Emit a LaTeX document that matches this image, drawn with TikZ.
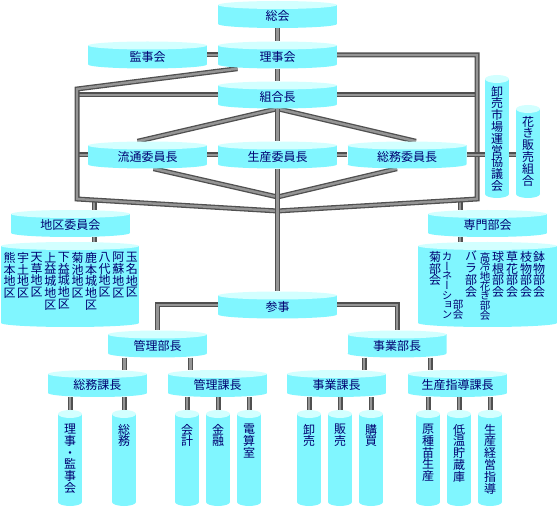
\documentclass[tikz,border=0pt]{standalone}
\usepackage{fontspec}
\usepackage{tikz}
\usetikzlibrary{calc,backgrounds}
\newfontfamily\jp{Noto Sans CJK JP}
\newfontfamily\jptate[RawFeature=+vert]{Noto Sans CJK JP}
\definecolor{cylbody}{HTML}{80F6FF}
\definecolor{cyltop}{HTML}{D2FFFF}
\definecolor{navytext}{HTML}{000070}
\definecolor{tubedark}{HTML}{505050}
\definecolor{tubelight}{HTML}{959595}
\tikzset{
  cyl/.style={rectangle, inner sep=0pt, text=navytext,
    minimum width=119pt, minimum height=27pt,
    font=\jp\fontsize{12}{12}\selectfont, text height=14pt, text depth=1pt,
    path picture={
      \fill[cylbody] let \p1=(path picture bounding box.south west),
        \p2=(path picture bounding box.north east) in
        (\x1,{\y1+4pt}) rectangle (\x2,{\y2-4pt});
      \fill[cylbody] let \p1=(path picture bounding box.south west),
        \p2=(path picture bounding box.north east) in
        ({(\x1+\x2)/2},{\y1+4pt}) ellipse [x radius={(\x2-\x1)/2}, y radius=4pt];
      \fill[cyltop] let \p1=(path picture bounding box.south west),
        \p2=(path picture bounding box.north east) in
        ({(\x1+\x2)/2},{\y2-4pt}) ellipse [x radius={(\x2-\x1)/2}, y radius=4pt];
    }},
  vcyl/.style={cyl, minimum width=24pt},
  tate/.style={anchor=north, inner sep=0pt, align=center, text=navytext,
    font=\jptate\fontsize{12}{11.8}\selectfont},
  tatesmall/.style={tate, font=\jptate\fontsize{10.5}{9.7}\selectfont},
  tube/.style={draw=tubedark, double=tubelight, line width=1.3pt,
    double distance=2.4pt, line join=miter}
}

\begin{document}
\begin{tikzpicture}[x=1pt,y=-1pt]
  \useasboundingbox (0,0) rectangle (558,508);

  % 総会・理事会・組合長
  \node[cyl] (soukai) at (277.5,14.5) {総会};
  \node[cyl] (rijikai) at (277.5,55) {理事会};
  \node[cyl] (kanjikai) at (147.5,55) {監事会};
  \node[cyl] (kumiaicho) at (277.5,95) {組合長};

  % 委員長
  \node[cyl] (ryutsu) at (147.5,155) {流通委員長};
  \node[cyl] (seisan) at (277.5,155) {生産委員長};
  \node[cyl] (soumu) at (407,155) {総務委員長};

  % 協議会・販売組合
  \node[vcyl, minimum height=123pt] (oroshi) at (497,136.5) {};
  \node[tate] (oroshi-t) at ([yshift=-11pt]oroshi.north) {卸\\売\\市\\場\\運\\営\\協\\議\\会};
  \node[vcyl, minimum height=93pt] (hanaki) at (528,151.5) {};
  \node[tate] (hanaki-t) at ([yshift=-11pt]hanaki.north) {花\\き\\販\\売\\組\\合};

  % 地区委員会
  \node[cyl] (chiku) at (70.5,223.5) {地区委員会};
  \node[cyl, minimum width=138pt, minimum height=85pt] (chikulist) at (70,284.5) {};
  \foreach \txt [count=\i from 0] in {{熊\\本\\地\\区},{宇\\土\\地\\区},{天\\草\\地\\区},
      {上\\益\\城\\地\\区},{下\\益\\城\\地\\区},{菊\\池\\地\\区},{鹿\\本\\城\\地\\区},
      {八\\代\\地\\区},{阿\\蘇\\地\\区},{玉\\名\\地\\区}}
    \node[tate] (chiku-\i) at ({9.5+13.6*\i},252) {\txt};

  % 専門部会
  \node[cyl] (senmon) at (487.5,223.5) {専門部会};
  \node[cyl, minimum width=139pt, minimum height=85pt] (senmonlist) at (487.5,284.5) {};
  \node[tate] (kiku) at (435,251) {菊\\部\\会};
  \node[tatesmall] (carnation) at (447,252) {カ\\ー\\ネ\\ー\\シ\\ョ\\ン};
  \node[tatesmall] (carnation-b) at (458,300) {部\\会};
  \node[tate] (bara) at (471,251) {バ\\ラ\\部\\会};
  \node[tatesmall] (kourei) at (485,252) {高\\冷\\地\\花\\き\\部\\会};
  \foreach \nm/\txt/\x in {kyukon/{球\\根\\部\\会}/498, kusabana/{草\\花\\部\\会}/512,
      edamono/{枝\\物\\部\\会}/526, hachimono/{鉢\\物\\部\\会}/539}
    \node[tate] (\nm) at (\x,251) {\txt};

  % 参事・部長・課長
  \node[cyl] (sanji) at (277.5,305) {参事};
  \node[cyl, minimum width=99pt] (kanribucho) at (157.5,344) {管理部長};
  \node[cyl, minimum width=99pt] (jigyobucho) at (397,344) {事業部長};
  \node[cyl, minimum width=99pt] (soumukacho) at (97.5,383.5) {総務課長};
  \node[cyl, minimum width=99pt] (kanrikacho) at (217.5,383.5) {管理課長};
  \node[cyl, minimum width=99pt] (jigyokacho) at (336.5,383.5) {事業課長};
  \node[cyl, minimum width=99pt] (shidokacho) at (457.5,383.5) {生産指導課長};

  % 係
  \foreach \nm/\x/\pa/\txt in {riji/70/soumukacho/{理\\事\\・\\監\\事\\会},
      soumuka/124/soumukacho/{総\\務}, kaikei/187/kanrikacho/{会\\計},
      kinyu/218/kanrikacho/{金\\融}, densan/249/kanrikacho/{電\\算\\室},
      oroshiuri/309/jigyokacho/{卸\\売}, hanbai/340/jigyokacho/{販\\売},
      kobai/371/jigyokacho/{購\\買}, genshu/428/shidokacho/{原\\種\\苗\\生\\産},
      teion/459/shidokacho/{低\\温\\貯\\蔵\\庫}, keiei/490/shidokacho/{生\\産\\経\\営\\指\\導}} {
    \node[vcyl, minimum height=96pt] (\nm) at (\x,458) {};
    \node[tate] (\nm-t) at ([yshift=-14pt]\nm.north) {\txt};
    \begin{scope}[on background layer]
      \draw[tube] (\nm.north |- \pa.south) -- (\nm.north);
    \end{scope}
  }

  % 接続線
  \begin{scope}[on background layer]
    \coordinate (ltop) at (77,89);
    \coordinate (lbot) at (77,199);
    \coordinate (rbot) at (477,199);
    \coordinate (mid1) at (277.5,197);
    \coordinate (mid2) at (277.5,211);
    \coordinate (chikuj) at (94,200);
    \coordinate (senmonj) at (460,200);

    \draw[tube] (kumiaicho.west) -- (kumiaicho.west -| ltop);
    \draw[tube] (kumiaicho.east) -- (kumiaicho.east -| rbot);
    \draw[tube] (ryutsu.west) -- (ryutsu.west -| ltop);
    \draw[tube] (chikuj) -- (chikuj |- chiku.north);
    \draw[tube] (chikuj |- chiku.south) -- (chikuj |- chikulist.north);
    \draw[tube] (senmonj) -- (senmonj |- senmon.north);
    \draw[tube] (senmonj |- senmon.south) -- (senmonj |- senmonlist.north);
    \draw[tube] (kumiaicho.south) -- ([xshift=-10pt]ryutsu.north);
    \draw[tube] (kumiaicho.south) -- ([xshift=9pt]soumu.north);
    \draw[tube] ([xshift=6pt]ryutsu.south) -- (mid1) -- ([xshift=-10pt]soumu.south);
    \draw[tube] ([xshift=-40pt]rijikai.south) -- (ltop) -- (lbot) -- (mid2) -- (rbot) |- (rijikai.east);
    \draw[tube] (soukai.south) -- (rijikai.north);
    \draw[tube] (rijikai.south) -- (kumiaicho.north);
    \draw[tube] (kumiaicho.south) -- (seisan.north);
    \draw[tube] (seisan.south) -- (sanji.north);
    \draw[tube] (kanjikai.east) -- (rijikai.west);
    \draw[tube] (ryutsu.east) -- (seisan.west);
    \draw[tube] (seisan.east) -- (soumu.west);
    \draw[tube] (soumu.east) -- (soumu.east -| oroshi.west);
    \draw[tube] (soumu.east -| oroshi.east) -- (soumu.east -| hanaki.west);

    \draw[tube] (sanji.west) -| (kanribucho.north);
    \draw[tube] (sanji.east) -| (jigyobucho.north);
    \path ([xshift=-33pt]kanribucho.south) coordinate (kb1)
          ([xshift=33pt]kanribucho.south) coordinate (kb2)
          ([xshift=-33pt]jigyobucho.south) coordinate (jb1)
          ([xshift=33pt]jigyobucho.south) coordinate (jb2);
    \draw[tube] (kb1) -- (kb1 |- soumukacho.north);
    \draw[tube] (kb2) -- (kb2 |- kanrikacho.north);
    \draw[tube] (jb1) -- (jb1 |- jigyokacho.north);
    \draw[tube] (jb2) -- (jb2 |- shidokacho.north);
  \end{scope}
\end{tikzpicture}
\end{document}
